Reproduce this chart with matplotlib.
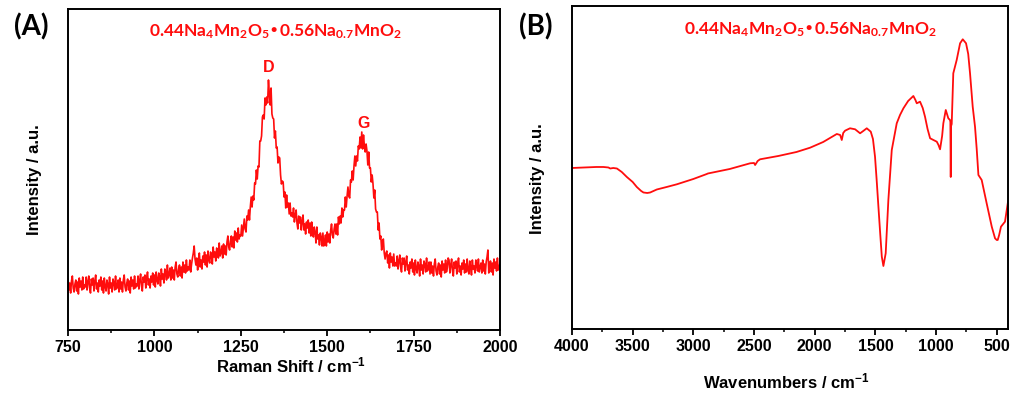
import numpy as np
import matplotlib
matplotlib.use("Agg")
import matplotlib.pyplot as plt
from matplotlib.ticker import MultipleLocator

plt.rcParams["font.family"] = ["Liberation Sans", "DejaVu Sans"]
plt.rcParams["mathtext.default"] = "regular"

RED = "#ff0d0d"
FORMULA = r"0.44Na$_4$Mn$_2$O$_5$•0.56Na$_{0.7}$MnO$_2$"

# ---- Raman spectrum (750-2000 cm-1, 2.5 cm-1 step) ----
raman_shift = np.arange(750, 2001, 2.5)
raman_intensity = [
    51, 40, 47, 37, 49, 54, 42, 38, 46, 50, 39, 48, 36, 52, 43, 49, 40, 53, 41, 45,
    43, 53, 40, 48, 54, 42, 37, 51, 45, 52, 39, 49, 55, 41, 47, 38, 50, 44, 53, 40,
    49, 37, 52, 43, 39, 50, 46, 36, 53, 42, 47, 38, 51, 48, 40, 54, 41, 44, 50, 38,
    52, 41, 48, 38, 50, 55, 43, 39, 47, 51, 40, 49, 37, 53, 44, 50, 41, 54, 42, 46,
    44, 54, 41, 50, 56, 44, 39, 53, 48, 55, 42, 52, 58, 45, 51, 42, 54, 48, 57, 45,
    55, 43, 58, 50, 46, 57, 54, 44, 61, 51, 56, 47, 61, 58, 50, 65, 52, 55, 62, 50,
    63, 52, 60, 50, 63, 68, 56, 53, 61, 65, 54, 63, 52, 68, 58, 65, 57, 70, 59, 63,
    60, 70, 58, 66, 72, 77, 84, 71, 65, 72, 60, 70, 77, 63, 70, 61, 74, 68, 78, 65,
    75, 63, 79, 70, 67, 78, 74, 66, 83, 73, 78, 69, 82, 80, 72, 87, 74, 77, 84, 72,
    86, 76, 84, 75, 88, 94, 83, 80, 89, 94, 83, 93, 82, 99, 90, 97, 88, 102, 91, 95,
    94, 105, 94, 103, 111, 101, 98, 114, 110, 120, 110, 123, 133, 123, 134, 130, 147, 146, 160, 151,
    164, 163, 189, 189, 194, 213, 215, 211, 232, 225, 233, 227, 250, 236, 225, 242, 216, 212, 211, 192,
    199, 182, 183, 167, 173, 172, 155, 146, 149, 148, 133, 138, 122, 135, 123, 127, 116, 127, 114, 117,
    113, 122, 108, 115, 120, 107, 101, 114, 107, 113, 100, 109, 115, 100, 106, 96, 108, 102, 110, 97,
    107, 94, 108, 98, 93, 103, 98, 87, 103, 91, 95, 85, 97, 93, 84, 97, 84, 88, 95, 84,
    98, 88, 96, 87, 100, 106, 95, 92, 101, 106, 96, 106, 95, 113, 106, 114, 107, 122, 113, 120,
    120, 133, 123, 134, 143, 134, 132, 150, 148, 159, 150, 164, 174, 164, 174, 169, 184, 181, 193, 182,
    198, 181, 195, 184, 178, 186, 179, 165, 178, 162, 162, 148, 155, 146, 132, 140, 121, 118, 118, 100,
    107, 91, 94, 80, 89, 91, 77, 71, 77, 79, 67, 75, 62, 77, 68, 73, 64, 76, 64, 67,
    64, 74, 61, 69, 75, 63, 58, 72, 66, 72, 59, 68, 74, 60, 65, 56, 68, 62, 71, 58,
    67, 55, 70, 61, 57, 68, 64, 54, 71, 60, 65, 56, 69, 66, 58, 72, 59, 62, 68, 56,
    68, 57, 64, 54, 66, 71, 59, 55, 63, 67, 56, 65, 53, 69, 60, 66, 57, 70, 58, 62,
    72, 70, 57, 65, 71, 59, 54, 68, 62, 69, 56, 66, 72, 58, 64, 55, 67, 61, 70, 57,
    66, 58, 71, 60, 56, 69, 63, 55, 70, 61, 64, 57, 70, 65, 59, 71, 58, 63, 67, 57,
    70, 59, 66, 56, 68, 73, 80, 57, 65, 69, 58, 67, 55, 71, 62, 68, 59, 72, 60, 64,
    66,
]
raman_peaks = {"D": (1330, 262), "G": (1604, 206)}

# ---- FTIR spectrum ----
ftir_wavenumber = [
    4000, 3900, 3800, 3741, 3700, 3685, 3660, 3630, 3590, 3548,
    3500, 3466, 3430, 3411, 3380, 3356, 3301, 3220, 3136, 3000,
    2889, 2880, 2700, 2532, 2500, 2491, 2470, 2450, 2300, 2150,
    2038, 1930, 1818, 1790, 1777, 1765, 1750, 1709, 1667, 1626,
    1600, 1571, 1538, 1520, 1503, 1490, 1475, 1460, 1447, 1434,
    1415, 1393, 1365, 1324, 1297, 1269, 1230, 1187, 1170, 1159,
    1132, 1110, 1091, 1070, 1049, 1022, 994, 980, 967, 950,
    940, 920, 899, 885, 882, 879, 876, 871, 858, 830,
    802, 780, 753, 735, 720, 698, 679, 665, 651, 624,
    583, 541, 514, 500, 492, 480, 465, 432, 407,
]
ftir_transmittance = [
    161, 161.5, 162, 162, 161.5, 160.5, 161, 160.5, 157, 152,
    147, 142, 138, 136.5, 136, 136.5, 139.5, 142, 144.7, 150,
    155, 155.5, 160, 165.7, 166, 164, 168, 169.7, 173, 177,
    181.3, 187, 195, 194, 189, 196, 198.3, 200.7, 199.7, 195.7,
    198, 200.7, 197.3, 190, 172.3, 150, 122.3, 95, 72.3, 63,
    75.7, 129, 179, 205.7, 214, 220.7, 228, 233, 229, 225.7,
    227.3, 221, 212.3, 200, 190.7, 189, 187.3, 184, 179.7, 193,
    205.7, 219, 210.7, 209, 207, 152, 203, 205, 255.7, 269,
    285.7, 289.7, 285.7, 275, 255.7, 222.3, 202.3, 180, 154, 149,
    125.7, 102.3, 90.7, 89, 89, 94, 102.3, 107.3, 127.3,
]

fig = plt.figure(figsize=(10.14, 3.94), dpi=100)
ax_a = fig.add_axes([0.0671, 0.1624, 0.4260, 0.8148])
ax_b = fig.add_axes([0.5641, 0.1650, 0.4300, 0.8198])

label_font = dict(fontsize=12, fontweight="bold")


def style_axes(ax):
    for sp in ax.spines.values():
        sp.set_linewidth(1.4)
    ax.tick_params(axis="x", which="major", direction="out", length=4,
                   width=1.3, pad=3, labelsize=11.5)
    ax.tick_params(axis="x", which="minor", direction="out", length=2.5,
                   width=1.1)
    ax.tick_params(axis="y", which="both", left=False, labelleft=False)
    for lab in ax.get_xticklabels():
        lab.set_fontweight("bold")


# Panel A: Raman
ax_a.plot(raman_shift, raman_intensity, color=RED, lw=1.2)
ax_a.set_xlim(750, 2000)
ax_a.set_ylim(0, 321)
ax_a.xaxis.set_major_locator(MultipleLocator(250))
ax_a.xaxis.set_minor_locator(MultipleLocator(125))
style_axes(ax_a)
ax_a.set_xlabel(r"Raman Shift / cm$^{-1}$", **label_font)
ax_a.set_ylabel("Intensity / a.u.", **label_font)
ax_a.xaxis.set_label_coords(0.516, -0.080)
ax_a.yaxis.set_label_coords(-0.060, 0.467)
for name, (xp, yp) in raman_peaks.items():
    ax_a.text(xp, yp, name, color=RED, fontsize=11.5, fontweight="bold",
              ha="center", va="center")
ax_a.text(0.481, 0.928, FORMULA, transform=ax_a.transAxes, color=RED,
          fontsize=12.5, fontweight="bold", ha="center", va="center",
          family=["Lato", "DejaVu Sans"])

# Panel B: FTIR
ax_b.plot(ftir_wavenumber, ftir_transmittance, color=RED, lw=1.3)
ax_b.set_xlim(4000, 407)
ax_b.set_ylim(0, 323)
ax_b.xaxis.set_major_locator(MultipleLocator(500))
ax_b.xaxis.set_minor_locator(MultipleLocator(250))
style_axes(ax_b)
ax_b.set_xlabel(r"Wavenumbers / cm$^{-1}$", **label_font)
ax_b.set_ylabel("Intensity / a.u.", **label_font)
ax_b.xaxis.set_label_coords(0.491, -0.133)
ax_b.yaxis.set_label_coords(-0.062, 0.466)
ax_b.text(0.546, 0.926, FORMULA, transform=ax_b.transAxes, color=RED,
          fontsize=12.5, fontweight="bold", ha="center", va="center",
          family=["Lato", "DejaVu Sans"])

# Panel letters
fig.text(31 / 1014, 1 - 27 / 394, "(A)", fontsize=20, fontweight="bold",
         ha="center", va="center", family=["Lato", "DejaVu Sans"])
fig.text(536 / 1014, 1 - 27 / 394, "(B)", fontsize=20, fontweight="bold",
         ha="center", va="center", family=["Lato", "DejaVu Sans"])

fig.savefig("out.png", dpi=100)
